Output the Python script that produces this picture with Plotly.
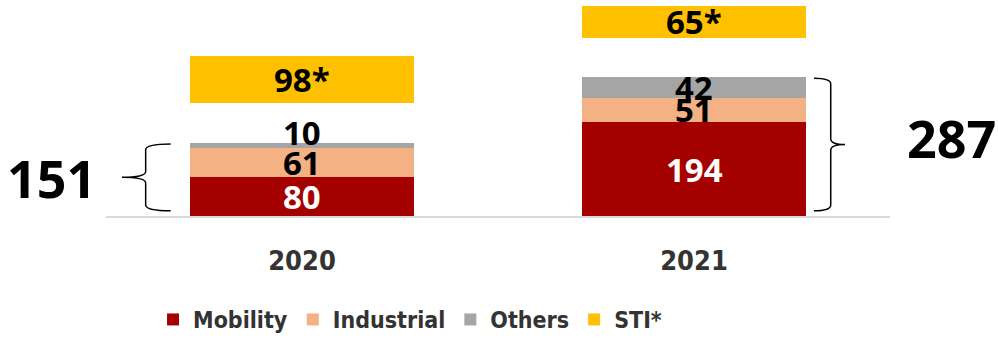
import plotly.graph_objects as go

# ---- data ----
years = ["2020", "2021"]
mobility = [80, 194]
industrial = [61, 51]
others = [10, 42]
sti = [98, 65]

# ---- styles ----
COLORS = {"Mobility": "#A50000", "Industrial": "#F4B183", "Others": "#A5A5A5", "STI*": "#FFC000"}
LABEL_COLORS = {"Mobility": "white", "Industrial": "black", "Others": "black", "STI*": "black"}
STI_GAP = 82            # visual gap between core stack and STI block (axis units)
Y_MAX = 447
BAR_WIDTH = 0.571
NARROW = "DejaVu Sans Condensed, DejaVu Sans, sans-serif"
WIDE = "Open Sans, Noto Sans, sans-serif"
LABEL_YSHIFT = {("Others", 0): 13}

xpos = list(range(len(years)))
totals = [m + i + o for m, i, o in zip(mobility, industrial, others)]
core = {"Mobility": mobility, "Industrial": industrial, "Others": others}

fig = go.Figure()
for name in ["Mobility", "Industrial", "Others"]:
    fig.add_trace(go.Bar(x=xpos, y=core[name], name=name, width=BAR_WIDTH,
                         marker=dict(color=COLORS[name], line=dict(width=0)),
                         customdata=years, hovertemplate="%{customdata}: %{y}<extra>" + name + "</extra>"))
fig.add_trace(go.Bar(x=xpos, y=[STI_GAP] * len(years), name="gap", showlegend=False, width=BAR_WIDTH,
                     marker=dict(color="rgba(0,0,0,0)", line=dict(width=0)), hoverinfo="skip"))
fig.add_trace(go.Bar(x=xpos, y=sti, name="STI*", width=BAR_WIDTH,
                     marker=dict(color=COLORS["STI*"], line=dict(width=0)),
                     customdata=years, hovertemplate="%{customdata}: %{y}<extra>STI*</extra>"))

# segment labels
annotations = []
for idx in xpos:
    base = 0
    for name in ["Mobility", "Industrial", "Others"]:
        v = core[name][idx]
        annotations.append(dict(x=idx, y=base + v / 2, xref="x", yref="y", text=f"<b>{v}</b>",
                                showarrow=False, yshift=LABEL_YSHIFT.get((name, idx), 0),
                                xanchor="center", yanchor="middle",
                                font=dict(family=WIDE, size=33, color=LABEL_COLORS[name])))
        base += v
    base += STI_GAP
    v = sti[idx]
    annotations.append(dict(x=idx, y=base + v / 2, xref="x", yref="y", text=f"<b>{v}*</b>",
                            showarrow=False, xanchor="center", yanchor="middle",
                            font=dict(family=WIDE, size=33, color=LABEL_COLORS["STI*"])))

# total labels + braces
BRACES = [  # x_end, x_mid, x_tip (paper), label x (paper), label yshift
    dict(xe=0.0825, xm=0.0506, xt=0.0204, lx=-0.069, ys=0),
    dict(xe=0.903, xm=0.9244, xt=0.9426, lx=1.079, ys=7),
]
shapes = []
for idx, b in enumerate(BRACES):
    y0, y1 = 11, totals[idx] - 2
    ym = (y0 + y1) / 2
    d = 12
    xe, xm, xt = b["xe"], b["xm"], b["xt"]
    path = (f"M {xe},{y1} Q {xm},{y1} {xm},{y1 - d} L {xm},{ym + d} "
            f"Q {xm},{ym} {xt},{ym} Q {xm},{ym} {xm},{ym - d} "
            f"L {xm},{y0 + d} Q {xm},{y0} {xe},{y0}")
    shapes.append(dict(type="path", path=path, xref="paper", yref="y",
                       line=dict(color="black", width=1.5)))
    annotations.append(dict(x=b["lx"], y=ym, xref="paper", yref="y", text=f"<b>{totals[idx]}</b>",
                            showarrow=False, yshift=b["ys"], xanchor="center", yanchor="middle",
                            font=dict(family=WIDE, size=52, color="black")))

fig.update_layout(
    width=998, height=341,
    margin=dict(l=106, r=108, t=0, b=123),
    barmode="stack",
    paper_bgcolor="white", plot_bgcolor="white",
    xaxis=dict(range=[-0.5, len(years) - 0.5], showline=True, linecolor="#D9D9D9", linewidth=2,
               showgrid=False, ticks="", zeroline=False, ticklabelstandoff=20,
               tickmode="array", tickvals=xpos, ticktext=[f"<b>{y}</b>" for y in years],
               tickfont=dict(family=NARROW, size=27, color="#333333")),
    yaxis=dict(visible=False, range=[0, Y_MAX], showgrid=False, zeroline=False),
    legend=dict(orientation="h", x=0.060, xanchor="left", y=-0.48, yanchor="middle",
                traceorder="normal", itemwidth=30,
                font=dict(family=NARROW, size=23, color="#333333", weight="bold")),
    annotations=annotations, shapes=shapes,
    showlegend=True,
)

fig.write_html("out.html")
